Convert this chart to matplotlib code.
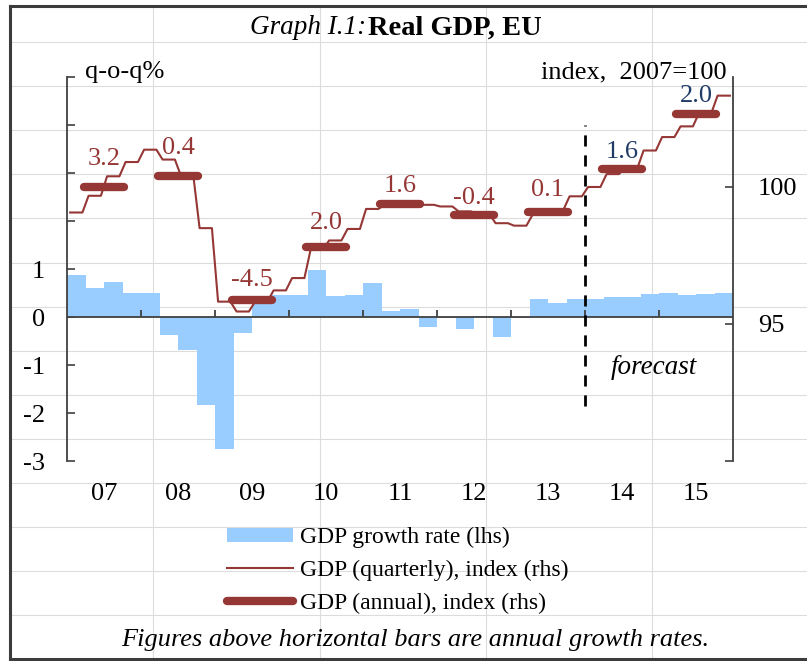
import numpy as np
import matplotlib
matplotlib.use("Agg")
import matplotlib.pyplot as plt
from matplotlib.lines import Line2D
from matplotlib.patches import Patch

plt.rcParams['font.family'] = ['Liberation Serif', 'DejaVu Serif']

# ---- data -------------------------------------------------------------
year_labels = ['07', '08', '09', '10', '11', '12', '13', '14', '15']

# annual growth rates (%), printed above the annual bars
annual_growth = [3.2, 0.4, -4.5, 2.0, 1.6, -0.4, 0.1, 1.6, 2.0]
forecast_from_year = 7          # 2014 onwards is forecast

# quarter-on-quarter GDP growth (%), 2007Q1 .. 2015Q4
qoq_growth = [
    0.87, 0.61, 0.73, 0.49,
    0.49, -0.38, -0.69, -1.84,
    -2.76, -0.33, 0.40, 0.46,
    0.46, 0.97, 0.44, 0.46,
    0.70, 0.12, 0.16, -0.21,
    -0.02, -0.24, 0.03, -0.42,
    -0.03, 0.38, 0.29, 0.38,
    0.38, 0.42, 0.42, 0.47,
    0.49, 0.45, 0.47, 0.49,
]

# quarterly GDP index (2007 = 100), 2007Q1 .. 2015Q4
quarterly_index = [
    99.06, 99.67, 100.38, 100.90,
    101.35, 100.99, 100.38, 98.49,
    95.81, 95.45, 95.81, 96.22,
    96.67, 97.70, 98.04, 98.46,
    99.19, 99.34, 99.40, 99.34,
    99.28, 99.10, 99.01, 98.67,
    98.58, 98.98, 99.16, 99.65,
    99.99, 100.46, 100.68, 101.32,
    101.81, 102.20, 102.69, 103.32,
]

# ---- derived series ------------------------------------------------------
# annual index levels: 2007 = 100, later years chained with the growth rates
annual_index = [100.0]
for g in annual_growth[1:]:
    annual_index.append(annual_index[-1] * (1 + g / 100.0))

n_q = len(qoq_growth)
n_y = len(year_labels)
year_centres = np.arange(n_y) * 4 + 2.0

# ---- styling -----------------------------------------------------------------
W, H = 807, 661
BAR_BLUE = '#99CCFF'
DARK_RED = '#953735'
NAVY = '#1F3B66'
AXIS_GREY = '#404040'
FS = 19

fig = plt.figure(figsize=(W / 100, H / 100), dpi=100)
fig.patch.set_facecolor('white')


def fx(px):
    return px / W


def fy(py):
    return 1 - py / H


# worksheet cell grid visible behind the chart
for gy in np.arange(42, 660, 44.1):
    fig.add_artist(Line2D([fx(10), 1], [fy(gy), fy(gy)], color='#dcdcdc',
                          lw=0.8, zorder=-5, transform=fig.transFigure))
for gx in [153, 320, 486, 652]:
    fig.add_artist(Line2D([fx(gx), fx(gx)], [fy(6), fy(659)], color='#dcdcdc',
                          lw=0.8, zorder=-5, transform=fig.transFigure))

# frame around the graph
frame_kw = dict(color='#3c3c3c', lw=2.2, zorder=10, transform=fig.transFigure,
                solid_capstyle='projecting')
fig.add_artist(Line2D([fx(9.5), 1], [fy(5.5), fy(5.5)], **frame_kw))
fig.add_artist(Line2D([fx(9.5), fx(9.5)], [fy(5.5), fy(659)], **frame_kw))
fig.add_artist(Line2D([fx(9.5), 1], [fy(659), fy(659)], **frame_kw))

ax = fig.add_axes([fx(67), fy(461), (733 - 67) / W, (461 - 77) / H])
ax2 = ax.twinx()
for a in (ax, ax2):
    a.patch.set_visible(False)
    for s in a.spines.values():
        s.set_visible(False)
ax.spines['left'].set_visible(True)
ax2.spines['right'].set_visible(True)
ax.spines['left'].set_color(AXIS_GREY)
ax2.spines['right'].set_color(AXIS_GREY)
ax.spines['left'].set_linewidth(1.3)
ax2.spines['right'].set_linewidth(1.3)

ax.set_xlim(0, n_q)
ax.set_ylim(-3, 5)
ax2.set_ylim(90, 104)

# quarterly growth bars (lhs)
ax.bar(np.arange(n_q) + 0.5, qoq_growth, width=1.0, color=BAR_BLUE,
       linewidth=0, zorder=2)
ax.axhline(0, color=AXIS_GREY, lw=1.3, zorder=3)
ax.vlines(np.arange(4, n_q, 4), 0, 0.15, color=AXIS_GREY, lw=1.3, zorder=3)

# left axis
ax.set_yticks(np.arange(-3, 6))
ax.set_yticklabels(['-3', '-2', '-1', '0', '1', '', '', '', ''])
ax.tick_params(axis='y', direction='in', length=6, width=1.2,
               color=AXIS_GREY, pad=16, labelsize=FS)
ax.set_xticks(year_centres)
ax.set_xticklabels(year_labels)
ax.tick_params(axis='x', length=0, pad=16, labelsize=FS)

# right axis
ax2.set_yticks([90, 95, 100])
ax2.set_yticklabels(['', '95', '100'])
ax2.tick_params(axis='y', direction='in', length=6, width=1.2,
                color=AXIS_GREY, pad=18, labelsize=FS)

# quarterly index as a stepped line (rhs)
q_x = np.ravel([[i + 1 / 6, i + 5 / 6] for i in range(n_q)])
q_y = np.repeat(quarterly_index, 2)
ax2.plot(q_x, q_y, color=DARK_RED, lw=1.5, zorder=3)

# annual index bars with their growth rates (rhs)
label_raise = [20, 20, 14, 17, 13, 12, 16, 12, 13]
for k in range(n_y):
    x0 = k * 4
    ax2.plot([x0 + 0.9, x0 + 3.1], [annual_index[k]] * 2, color=DARK_RED,
             lw=6, solid_capstyle='round', zorder=4)
    colour = NAVY if k >= forecast_from_year else DARK_RED
    ax2.annotate(f'{annual_growth[k]:.1f}', xy=(year_centres[k], annual_index[k]),
                 xytext=(0, label_raise[k]), textcoords='offset points',
                 ha='center', va='center', color=colour, fontsize=FS, zorder=5)

# forecast divider
ax2.vlines(forecast_from_year * 4, 92.0, 102.25, colors='black', lw=2,
           linestyles=(0, (4, 3.2)), zorder=5)
ax.text(31.7, -1.06, 'forecast', style='italic', ha='center', va='center',
        fontsize=FS + 0.5)

# titles and units
fig.text(fx(366), fy(28), 'Graph I.1:', style='italic', ha='right',
         va='center', fontsize=FS + 0.5)
fig.text(fx(368), fy(28), 'Real GDP, EU', weight='bold', ha='left',
         va='center', fontsize=20.5)
fig.text(fx(85), fy(72), 'q-o-q%', ha='left', va='center', fontsize=FS)
fig.text(fx(727), fy(72), 'index,  2007=100', ha='right', va='center',
         fontsize=FS)

# legend
handles = [
    Patch(facecolor=BAR_BLUE, edgecolor='none'),
    Line2D([], [], color=DARK_RED, lw=1.5),
    Line2D([], [], color=DARK_RED, lw=6, solid_capstyle='round'),
]
labels = ['GDP growth rate (lhs)', 'GDP (quarterly), index (rhs)',
          'GDP (annual), index (rhs)']
fig.legend(handles, labels, loc='upper left',
           bbox_to_anchor=(fx(227), fy(527)), frameon=False, fontsize=17,
           handlelength=2.8, handleheight=0.55, handletextpad=0.3,
           labelspacing=0.5, borderpad=0, borderaxespad=0)

fig.text(fx(415), fy(640), 'Figures above horizontal bars are annual growth rates.',
         style='italic', ha='center', va='center', fontsize=FS)

fig.savefig('out.png', dpi=100)
